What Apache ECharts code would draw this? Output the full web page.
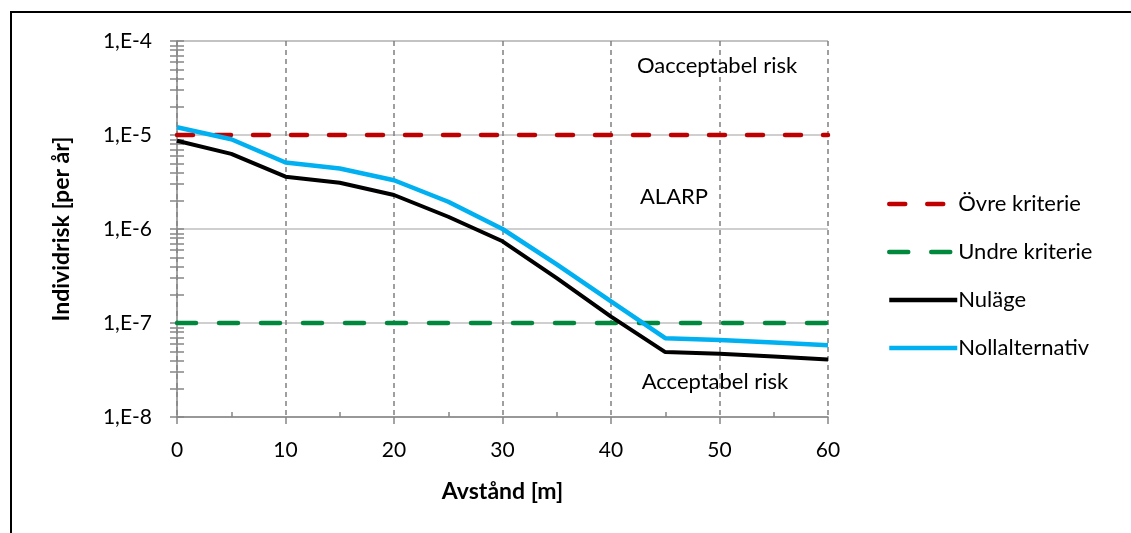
<!DOCTYPE html>
<html>
<head>
    <meta charset="utf-8">
    <title>Individrisk</title>
    <script src="https://cdn.jsdelivr.net/npm/echarts@6.0.0/dist/echarts.min.js"></script>
    <style>
        html, body { margin: 0; padding: 0; background: #fff; }
        #main { width: 1131px; height: 533px; }
    </style>
</head>
<body>
    <div id="main"></div>
    <script>
        // avstånd [m]
        const distances = [0, 5, 10, 15, 20, 25, 30, 35, 40, 45, 50, 55, 60];
        // individrisk per år
        const nulage = [8.7e-6, 6.3e-6, 3.6e-6, 3.1e-6, 2.3e-6, 1.35e-6, 7.4e-7, 3.0e-7, 1.17e-7, 4.9e-8, 4.7e-8, 4.4e-8, 4.1e-8];
        const nollalternativ = [1.21e-5, 9.0e-6, 5.1e-6, 4.4e-6, 3.3e-6, 1.95e-6, 1.0e-6, 4.2e-7, 1.7e-7, 6.9e-8, 6.6e-8, 6.2e-8, 5.8e-8];
        // kriterier (start- och slutpunkt)
        const kriterieX = [0, 60];
        const ovreKriterie = [1e-5, 1e-5];
        const undreKriterie = [1e-7, 1e-7];

        const yTickLabels = ['1,E-8', '1,E-7', '1,E-6', '1,E-5', '1,E-4'];
        const xMinorTicks = [5, 15, 25, 35, 45, 55];

        // log-ticks 1..9 per dekad
        const yAllTicks = [];
        for (let e = -8; e < -4; e++) {
            for (let m = 1; m <= 9; m++) yAllTicks.push(m * Math.pow(10, e));
        }
        yAllTicks.push(1e-4);

        const pair = (xs, ys) => xs.map((x, i) => [x, ys[i]]);
        const font = 'Lato, "Open Sans", sans-serif';
        const axisGray = '#868686';

        // extra y-axel som bara ritar tickmarks (inåt/utåt)
        const tickAxis = inside => ({
            type: 'log',
            logBase: 10,
            min: 1e-8, max: 1e-4,
            position: 'left',
            axisLine: { show: false },
            axisLabel: { show: false },
            splitLine: { show: false },
            axisTick: { show: true, inside: inside, length: 7, customValues: yAllTicks, lineStyle: { color: axisGray, width: 1.5 } }
        });

        const chart = echarts.init(document.getElementById('main'));

        const option = {
            animation: false,
            grid: { left: 177, right: 303, top: 41, bottom: 116 },
            xAxis: [{
                type: 'value',
                min: 0, max: 60, interval: 10,
                name: 'Avstånd [m]',
                nameLocation: 'middle',
                nameGap: 63,
                nameTextStyle: { fontFamily: font, fontSize: 23, fontWeight: 'bold', color: '#000' },
                axisLine: { show: true, lineStyle: { color: axisGray, width: 1.5 } },
                axisTick: { show: true, length: 7, lineStyle: { color: axisGray, width: 1.5 } },
                axisLabel: { fontFamily: font, fontSize: 21, color: '#000', margin: 23 },
                splitLine: { show: true, lineStyle: { color: '#808080', type: [5, 4], width: 1.5 } }
            }, {
                type: 'value',
                min: 0, max: 60, interval: 10,
                position: 'bottom',
                axisLine: { show: false },
                axisLabel: { show: false },
                splitLine: { show: false },
                axisTick: { show: true, inside: true, length: 5, customValues: xMinorTicks, lineStyle: { color: axisGray, width: 1.5 } }
            }],
            yAxis: [{
                type: 'log',
                logBase: 10,
                min: 1e-8, max: 1e-4,
                name: 'Individrisk [per år]',
                nameLocation: 'middle',
                nameGap: 104,
                nameTextStyle: { fontFamily: font, fontSize: 23, fontWeight: 'bold', color: '#000' },
                axisLine: { show: true, lineStyle: { color: axisGray, width: 1.5 } },
                axisTick: { show: false },
                axisLabel: {
                    fontFamily: font, fontSize: 21, color: '#000', margin: 25,
                    formatter: v => yTickLabels[Math.round(Math.log10(v)) + 8]
                },
                splitLine: { show: true, lineStyle: { color: '#BFBFBF', width: 1.5 } }
            }, tickAxis(true), tickAxis(false)],
            legend: {
                orient: 'vertical',
                left: 882, top: 188,
                itemWidth: 68, itemHeight: 22, itemGap: 26,
                itemStyle: { opacity: 0 },
                lineStyle: { width: 4.5 },
                textStyle: { fontFamily: font, fontSize: 22, lineHeight: 22, color: '#000', padding: [0, 0, 0, -4] },
                data: ['Övre kriterie', 'Undre kriterie', 'Nuläge', 'Nollalternativ']
            },
            series: [{
                name: 'Övre kriterie',
                type: 'line',
                symbol: 'none',
                data: pair(kriterieX, ovreKriterie),
                lineStyle: { color: '#C00000', width: 4.5, type: [16, 22], cap: 'round' },
                itemStyle: { color: '#C00000' },
                z: 3
            }, {
                name: 'Undre kriterie',
                type: 'line',
                symbol: 'none',
                data: pair(kriterieX, undreKriterie),
                lineStyle: { color: '#00893C', width: 4.5, type: [19, 23], cap: 'round' },
                itemStyle: { color: '#00893C' },
                z: 3
            }, {
                name: 'Nuläge',
                type: 'line',
                symbol: 'none',
                data: pair(distances, nulage),
                lineStyle: { color: '#000000', width: 4 },
                itemStyle: { color: '#000000' },
                z: 4
            }, {
                name: 'Nollalternativ',
                type: 'line',
                symbol: 'none',
                data: pair(distances, nollalternativ),
                lineStyle: { color: '#00B0F0', width: 4.5 },
                itemStyle: { color: '#00B0F0' },
                z: 5
            }],
            graphic: [{
                type: 'rect',
                shape: { x: 11, y: 12, width: 1140, height: 540 },
                style: { fill: 'none', stroke: '#000', lineWidth: 2 },
                silent: true
            }, {
                type: 'text', x: 717, y: 66, z: 100,
                style: { text: 'Oacceptabel risk', font: '22px ' + font, fill: '#000', align: 'center', verticalAlign: 'middle' }
            }, {
                type: 'text', x: 674, y: 197, z: 100,
                style: { text: 'ALARP', font: '22px ' + font, fill: '#000', align: 'center', verticalAlign: 'middle' }
            }, {
                type: 'text', x: 715, y: 382, z: 100,
                style: { text: 'Acceptabel risk', font: '22px ' + font, fill: '#000', align: 'center', verticalAlign: 'middle' }
            }]
        };

        chart.setOption(option);
    </script>
</body>
</html>
